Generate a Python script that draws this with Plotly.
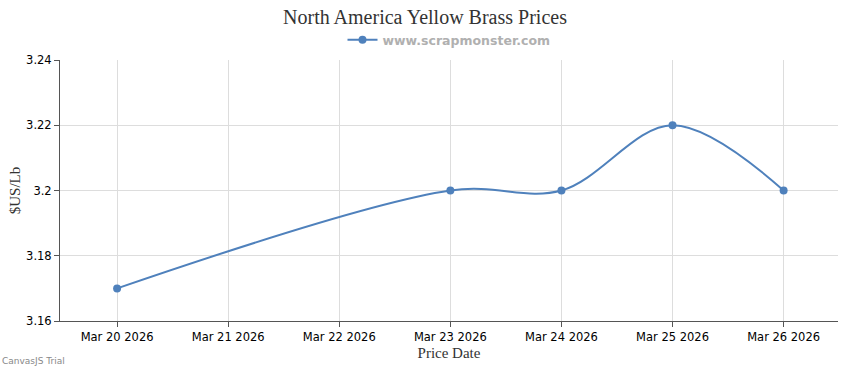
import plotly.graph_objects as go

dates = ["2026-03-20", "2026-03-23", "2026-03-24", "2026-03-25", "2026-03-26"]
prices = [3.17, 3.20, 3.20, 3.22, 3.20]
y_ticks = [3.16, 3.18, 3.20, 3.22, 3.24]
y_tick_labels = ["3.16", "3.18", "3.2", "3.22", "3.24"]

line_color = "#4f81bc"
W, H = 850, 370

fig = go.Figure()
fig.add_trace(go.Scatter(
    x=dates, y=prices, mode="lines+markers",
    name="www.scrapmonster.com",
    line=dict(color=line_color, width=2, shape="spline", smoothing=1),
    marker=dict(color=line_color, size=8),
))

fig.update_layout(
    width=W, height=H,
    margin=dict(l=60, r=12, t=60, b=49, autoexpand=False),
    paper_bgcolor="white", plot_bgcolor="white",
    title=dict(text="North America Yellow Brass Prices", x=0.5, xanchor="center",
               y=1 - 17/H, yanchor="middle", yref="container",
               font=dict(family="Liberation Serif", size=20, color="#333333")),
    showlegend=True,
    legend=dict(orientation="h", x=0.5, xanchor="center", y=1 - 40/H, yanchor="middle",
                yref="container", font=dict(family="DejaVu Sans", size=12.5, color="#b0b0b0", weight="bold"),
                itemwidth=30),
    xaxis=dict(
        type="date",
        range=["2026-03-19 11:40", "2026-03-26 11:45"],
        tickformat="%b %d %Y", dtick=86400000, tick0="2026-03-20",
        showgrid=True, gridcolor="#dddddd", gridwidth=1,
        showline=True, linecolor="#555555", linewidth=1,
        ticks="outside", ticklen=5, tickcolor="#555555",
        tickfont=dict(family="DejaVu Sans", size=11.5, color="#000000"),
        title=dict(text="Price Date", font=dict(family="Liberation Serif", size=15, color="#333333"), standoff=4),
        zeroline=False,
    ),
    yaxis=dict(
        range=[3.16, 3.24],
        tickvals=y_ticks, ticktext=y_tick_labels,
        showgrid=True, gridcolor="#dddddd", gridwidth=1,
        showline=True, linecolor="#555555", linewidth=1,
        ticks="outside", ticklen=5, tickcolor="#555555",
        tickfont=dict(family="DejaVu Sans", size=11.5, color="#000000"),
        title=dict(text="$US/Lb", font=dict(family="Liberation Serif", size=15, color="#333333"), standoff=1),
        zeroline=False,
    ),
    annotations=[dict(text="CanvasJS Trial", x=0, y=0, xref="paper", yref="paper",
                      xanchor="left", yanchor="bottom", showarrow=False,
                      font=dict(family="DejaVu Sans", size=9, color="#888888"),
                      xshift=-60, yshift=-47)],
)

fig.write_html("out.html", config={"displayModeBar": False},
               post_script="document.body.style.margin='0';")
